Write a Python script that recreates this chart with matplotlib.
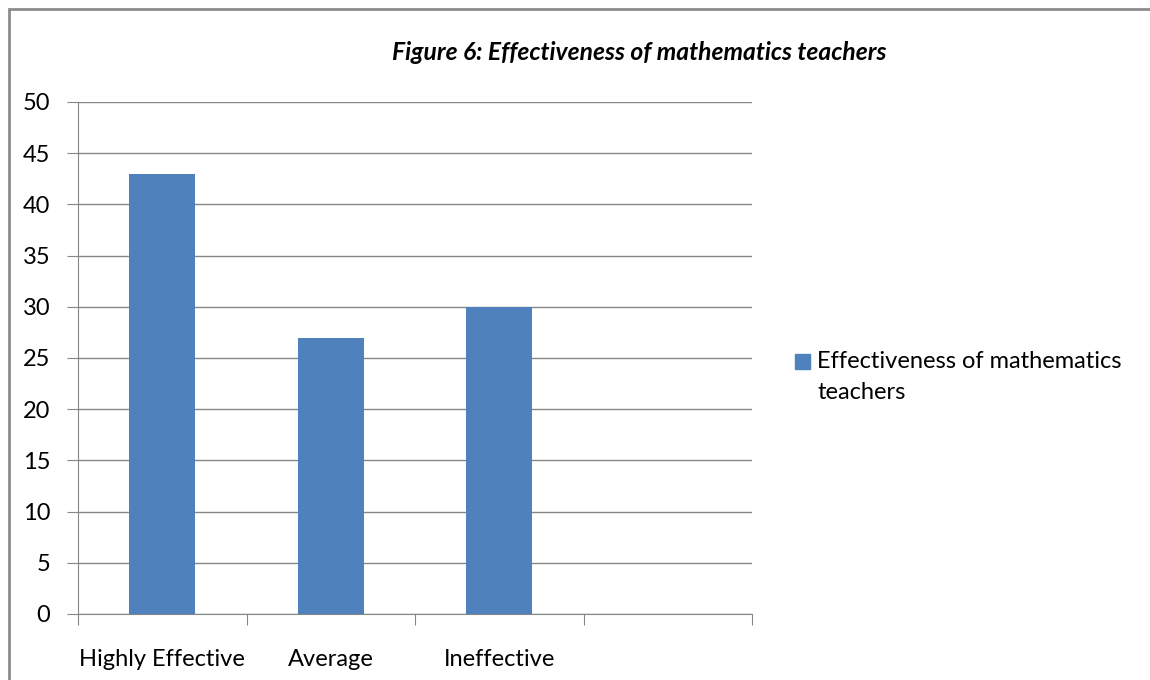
import matplotlib
matplotlib.use("Agg")
import matplotlib.pyplot as plt
from matplotlib.patches import Rectangle

categories = ["Highly Effective", "Average", "Ineffective", ""]
values = [43, 27, 30, 0]
yticks = [0, 5, 10, 15, 20, 25, 30, 35, 40, 45, 50]
title = "Figure 6: Effectiveness of mathematics teachers"
legend_lines = ["Effectiveness of mathematics", "teachers"]

plt.rcParams['font.family'] = ['Lato', 'DejaVu Sans']
BAR = "#4F81BD"
GRID = "#868686"
FS = 17

fig = plt.figure(figsize=(11.5, 6.8), dpi=100)
ax = fig.add_axes([78/1150, 1 - 614/680, (752-78)/1150, (614-102)/680])

x = list(range(len(categories)))
ax.bar(x[:3], values[:3], width=0.39, color=BAR, zorder=3)
ax.set_xlim(-0.5, 3.5)
ax.set_ylim(0, 50)
ax.set_yticks(yticks)
ax.set_yticklabels([str(v) for v in yticks], fontsize=FS)
ax.yaxis.grid(True, color=GRID, linewidth=1, zorder=0)
ax.set_xticks([-0.5, 0.5, 1.5, 2.5, 3.5])
ax.set_xticklabels([])
ax.set_xticks(x[:3], minor=True)
ax.set_xticklabels(categories[:3], minor=True, fontsize=FS)
ax.tick_params(axis='x', which='major', length=8, color=GRID, direction='out')
ax.tick_params(axis='x', which='minor', length=0, pad=25)
ax.tick_params(axis='y', length=8, color=GRID, direction='out', pad=12)
for s in ['top', 'right']:
    ax.spines[s].set_visible(False)
for s in ['left', 'bottom']:
    ax.spines[s].set_color(GRID)

fig.text(639/1150, 1 - 53/680, title, ha='center', va='center', fontsize=17.7,
         fontweight='bold', fontstyle='italic')

fig.patches.append(Rectangle((795/1150, 1 - 369/680), 15/1150, 15/680,
                             transform=fig.transFigure, color=BAR))
fig.text(817/1150, 1 - 362/680, legend_lines[0], ha='left', va='center', fontsize=FS)
fig.text(817/1150, 1 - 393/680, legend_lines[1], ha='left', va='center', fontsize=FS)

fig.patches.append(Rectangle((9/1150, -10/680), 1160/1150, 681/680,
                             transform=fig.transFigure, fill=False, edgecolor="#8c8c8c", linewidth=2))

fig.savefig("out.png", dpi=100)
